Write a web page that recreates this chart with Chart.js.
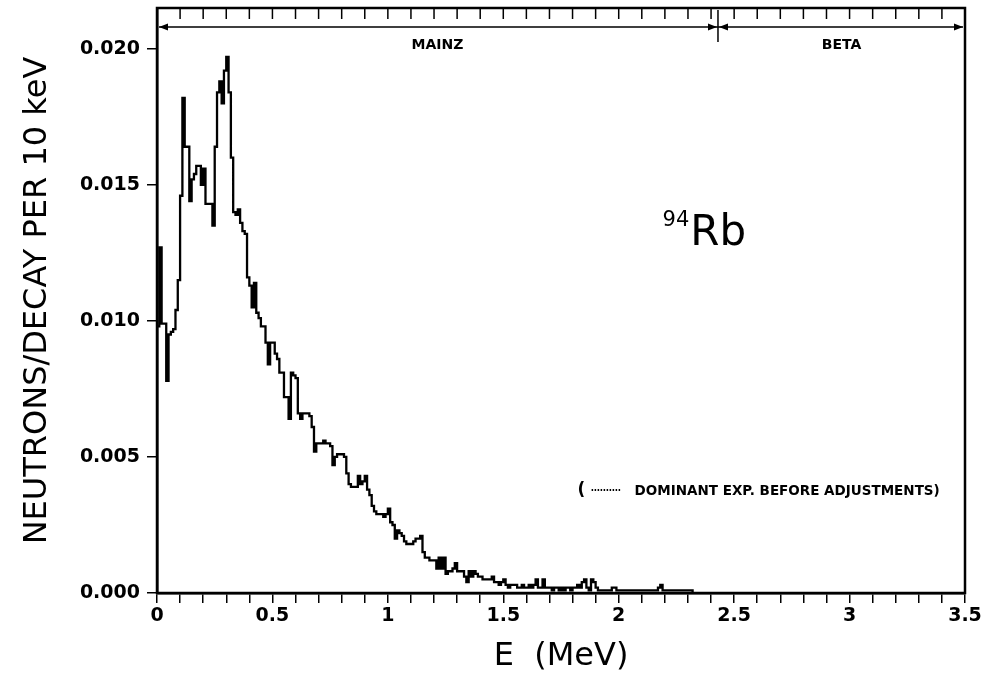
<!DOCTYPE html>
<html>
<head>
<meta charset="utf-8">
<script src="https://cdn.jsdelivr.net/npm/chart.js@4.4.1/dist/chart.umd.min.js"></script>
<style>
  html, body { margin: 0; padding: 0; background: #fff; }
  #wrap { width: 986px; height: 677px; }
</style>
</head>
<body>
<div id="wrap"><canvas id="spectrum"></canvas></div>
<script>
// neutron spectrum of 94Rb, 10 keV bins starting at 0 MeV
const binWidth = 0.01;
const neutronsPerDecay = [
  0.0098, 0.0127, 0.0099, 0.0099, 0.0078, 0.0095, 0.0096, 0.0097, 0.0104, 0.0115,
  0.0146, 0.0182, 0.0164, 0.0164, 0.0144, 0.0152, 0.0154, 0.0157, 0.0157, 0.0150,
  0.0156, 0.0143, 0.0143, 0.0143, 0.0135, 0.0164, 0.0184, 0.0188, 0.0180, 0.0192,
  0.0197, 0.0184, 0.0160, 0.0140, 0.0139, 0.0141, 0.0136, 0.0133, 0.0132, 0.0116,
  0.0113, 0.0105, 0.0114, 0.0103, 0.0101, 0.0098, 0.0098, 0.0092, 0.0084, 0.0092,
  0.0092, 0.0088, 0.0086, 0.0081, 0.0081, 0.0072, 0.0072, 0.0064, 0.0081, 0.0080,
  0.0079, 0.0066, 0.0064, 0.0066, 0.0066, 0.0066, 0.0065, 0.0061, 0.0052, 0.0055,
  0.0055, 0.0055, 0.0056, 0.0055, 0.0055, 0.0054, 0.0047, 0.0050, 0.0051, 0.0051,
  0.0051, 0.0050, 0.0044, 0.0040, 0.0039, 0.0039, 0.0039, 0.0043, 0.0040, 0.0041,
  0.0043, 0.0038, 0.0036, 0.0032, 0.0030, 0.0029, 0.0029, 0.0029, 0.0028, 0.0029,
  0.0031, 0.0026, 0.0025, 0.0020, 0.0023, 0.0022, 0.0021, 0.0019, 0.0018, 0.0018,
  0.0018, 0.0019, 0.0020, 0.0020, 0.0021, 0.0015, 0.0013, 0.0013, 0.0012, 0.0012,
  0.0012, 0.0009, 0.0013, 0.0009, 0.0013, 0.0007, 0.0008, 0.0008, 0.0009, 0.0011,
  0.0008, 0.0008, 0.0008, 0.0006, 0.0004, 0.0008, 0.0006, 0.0008, 0.0007, 0.0006,
  0.0006, 0.0005, 0.0005, 0.0005, 0.0005, 0.0006, 0.0004, 0.0004, 0.0003, 0.0004,
  0.0005, 0.0003, 0.0002, 0.0003, 0.0003, 0.0003, 0.0002, 0.0002, 0.0003, 0.0002,
  0.0002, 0.0003, 0.0002, 0.0003, 0.0005, 0.0002, 0.0002, 0.0005, 0.0002, 0.0002,
  0.0002, 0.0001, 0.0002, 0.0002, 0.0001, 0.0002, 0.0001, 0.0002, 0.0002, 0.0001,
  0.0002, 0.0002, 0.0003, 0.0002, 0.0004, 0.0005, 0.0002, 0.0001, 0.0005, 0.0004,
  0.0002, 0.0001, 0.0001, 0.0001, 0.0001, 0.0001, 0.0001, 0.0002, 0.0002, 0.0001,
  0.0001, 0.0001, 0.0001, 0.0001, 0.0001, 0.0001, 0.0001, 0.0001, 0.0001, 0.0001,
  0.0001, 0.0001, 0.0001, 0.0001, 0.0001, 0.0001, 0.0001, 0.0002, 0.0003, 0.0001,
  0.0001, 0.0001, 0.0001, 0.0001, 0.0001, 0.0001, 0.0001, 0.0001, 0.0001, 0.0001,
  0.0001, 0.0001
];

const xTickLabels = ['0', '0.5', '1', '1.5', '2', '2.5', '3', '3.5'];
const yTickLabels = ['0.000', '0.005', '0.010', '0.015', '0.020'];

// data-range bands shown along the top edge
const bandNames = ['MAINZ', 'BETA'];
const bandEdges = [0, 2.43, 3.5];

const FONT = '"DejaVu Sans", "Liberation Sans", sans-serif';

const points = [{ x: 0, y: 0 }];
neutronsPerDecay.forEach((v, i) => points.push({ x: +(i * binWidth).toFixed(2), y: v }));
points.push({ x: +(neutronsPerDecay.length * binWidth).toFixed(2), y: 0 });

function arrowHead(ctx, x, y, dir) {
  ctx.beginPath();
  ctx.moveTo(x, y);
  ctx.lineTo(x - dir * 9, y - 3.5);
  ctx.lineTo(x - dir * 9, y + 3.5);
  ctx.closePath();
  ctx.fill();
}

const decorations = {
  id: 'decorations',
  afterDraw(chart) {
    const { ctx, chartArea: a, scales: { x, y } } = chart;
    ctx.save();
    ctx.strokeStyle = '#000';
    ctx.fillStyle = '#000';

    // frame
    ctx.lineWidth = 2.5;
    ctx.strokeRect(a.left, a.top, a.right - a.left, a.bottom - a.top);

    // inner ticks along the top edge
    ctx.lineWidth = 1.5;
    for (let i = 1; i < 35; i++) {
      const px = x.getPixelForValue(i / 10);
      ctx.beginPath();
      ctx.moveTo(px, a.top);
      ctx.lineTo(px, a.top + 11);
      ctx.stroke();
    }

    // band arrows
    const ay = a.top + 19;
    const x0 = x.getPixelForValue(bandEdges[0]) + 2;
    const xs = x.getPixelForValue(bandEdges[1]);
    const x1 = x.getPixelForValue(bandEdges[2]) - 2;
    ctx.lineWidth = 1.5;
    ctx.beginPath();
    ctx.moveTo(x0, ay);
    ctx.lineTo(x1, ay);
    ctx.moveTo(xs, a.top + 2);
    ctx.lineTo(xs, a.top + 34);
    ctx.stroke();
    arrowHead(ctx, x0, ay, -1);
    arrowHead(ctx, xs - 1, ay, 1);
    arrowHead(ctx, xs + 1, ay, -1);
    arrowHead(ctx, x1, ay, 1);

    ctx.font = 'bold 14px ' + FONT;
    ctx.textAlign = 'center';
    ctx.textBaseline = 'middle';
    bandNames.forEach((name, i) => {
      const mid = x.getPixelForValue((bandEdges[i] + bandEdges[i + 1]) / 2);
      ctx.fillText(name, mid, a.top + 37);
    });

    // nuclide label
    const rx = x.getPixelForValue(2.31);
    const ry = y.getPixelForValue(0.0128);
    ctx.textAlign = 'left';
    ctx.textBaseline = 'alphabetic';
    ctx.font = '42px ' + FONT;
    ctx.fillText('Rb', rx, ry);
    ctx.font = '21px ' + FONT;
    ctx.textAlign = 'right';
    ctx.fillText('94', rx - 1, ry - 19);

    // note
    const nx = x.getPixelForValue(1.822);
    const ny = y.getPixelForValue(0.0036);
    ctx.textAlign = 'left';
    ctx.font = 'bold 17px ' + FONT;
    ctx.fillText('(', nx, ny);
    ctx.setLineDash([1.5, 1.5]);
    ctx.lineWidth = 2;
    ctx.beginPath();
    ctx.moveTo(nx + 14, ny - 5);
    ctx.lineTo(nx + 44, ny - 5);
    ctx.stroke();
    ctx.setLineDash([]);
    ctx.font = 'bold 13.5px ' + FONT;
    ctx.fillText('DOMINANT EXP. BEFORE ADJUSTMENTS)', nx + 57, ny);

    ctx.restore();
  }
};

const ctx = document.getElementById('spectrum').getContext('2d');
new Chart(ctx, {
  type: 'line',
  data: {
    datasets: [{
      data: points,
      stepped: true,
      borderColor: '#000',
      borderWidth: 2.3,
      pointRadius: 0,
      fill: false
    }]
  },
  options: {
    responsive: true,
    maintainAspectRatio: false,
    animation: false,
    layout: { padding: { top: 8, right: 21, left: 0, bottom: 0 } },
    plugins: { legend: { display: false }, tooltip: { enabled: false } },
    scales: {
      x: {
        type: 'linear',
        min: 0,
        max: 3.5,
        afterFit: (s) => { s.height = 84; s.paddingLeft = 0; s.paddingRight = 0; },
        border: { display: true, color: '#000', width: 2.5 },
        grid: { drawOnChartArea: false, drawTicks: true, tickLength: 10, color: '#000', lineWidth: 1.5 },
        ticks: {
          stepSize: 0.1,
          autoSkip: false,
          maxRotation: 0,
          includeBounds: false,
          padding: 2,
          color: '#000',
          font: { family: FONT, size: 19, weight: 'bold' },
          callback: (v) => {
            const k = Math.round(v * 2);
            return Math.abs(v * 2 - k) < 1e-6 ? xTickLabels[k] : '';
          }
        },
        title: {
          display: true,
          text: 'E  (MeV)',
          color: '#000',
          font: { family: FONT, size: 32 },
          padding: { top: 0, bottom: 1 }
        }
      },
      y: {
        min: 0,
        max: 0.0215,
        afterFit: (s) => { s.width = 157; s.paddingTop = 0; s.paddingBottom = 0; },
        border: { display: true, color: '#000', width: 2.5 },
        grid: { drawOnChartArea: false, drawTicks: true, tickLength: 10, color: '#000', lineWidth: 1.5 },
        ticks: {
          stepSize: 0.005,
          includeBounds: false,
          padding: 7,
          color: '#000',
          font: { family: FONT, size: 19, weight: 'bold' },
          callback: (v) => yTickLabels[Math.round(v / 0.005)] ?? ''
        },
        title: {
          display: true,
          text: 'NEUTRONS/DECAY PER 10 keV',
          color: '#000',
          font: { family: FONT, size: 32 },
          padding: { top: 18, bottom: 0 }
        }
      }
    }
  },
  plugins: [decorations]
});
</script>
</body>
</html>
